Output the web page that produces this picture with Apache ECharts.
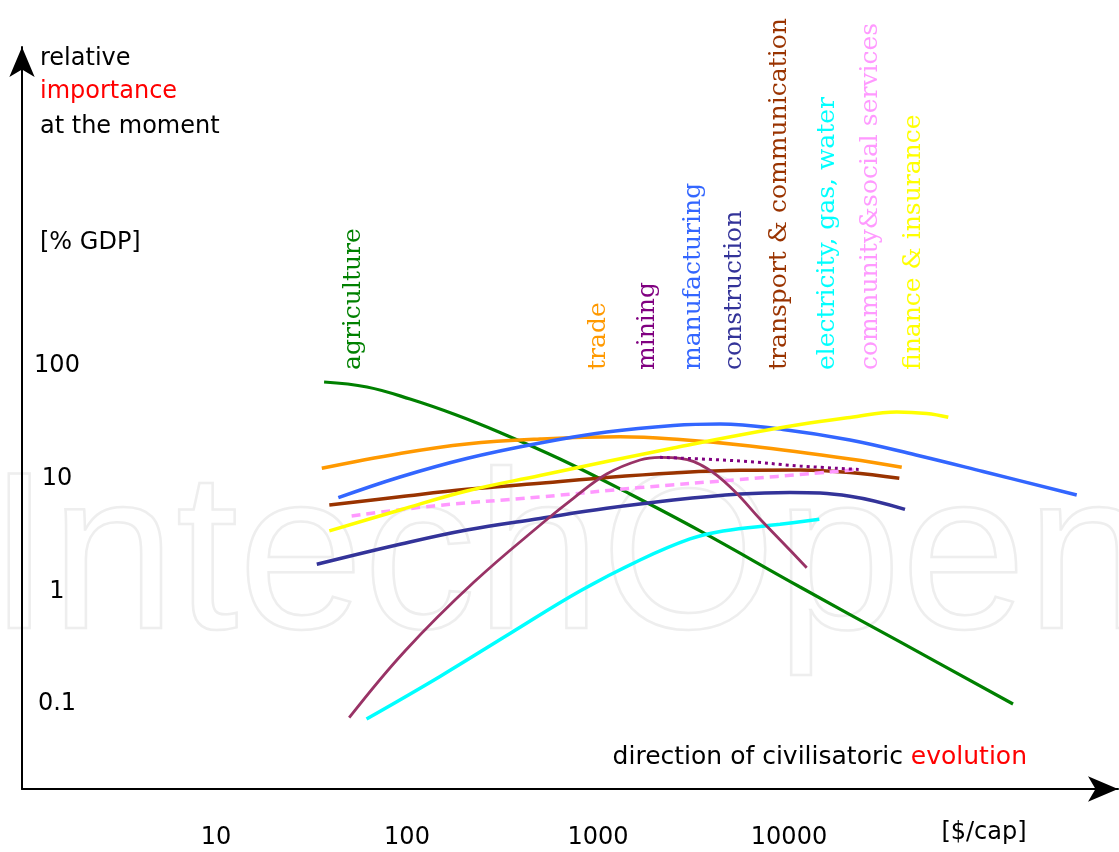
<!DOCTYPE html>
<html>
<head>
<meta charset="utf-8">
<title>Sector shares along GDP per capita</title>
<script src="https://cdn.jsdelivr.net/npm/echarts@6/dist/echarts.min.js"></script>
<style>
html, body { margin: 0; padding: 0; background: #fff; }
#main { width: 1119px; height: 852px; }
</style>
</head>
<body>
<div id="main"></div>
<script>
var chart = echarts.init(document.getElementById('main'), null, { renderer: 'canvas' });

// tick labels
var xTicks = [10, 100, 1000, 10000];
var yTicks = [0.1, 1, 10, 100];

// curves, points are [$ per capita, % of GDP]
var agriculture = [[36.8, 72.1], [61.7, 65.1], [103.7, 50.9], [178.4, 37.1], [306.9, 25.7], [632.4, 14.95],
    [1471, 7.31], [3420, 3.44], [11420, 1.094], [38140, 0.356], [148900, 0.1002]];
var trade = [[35.8, 12.37], [91.9, 16.74], [205.3, 20.32], [497, 22.5], [1304, 23.59], [2688, 22.27],
    [6249, 19.5], [20860, 14.95], [38930, 12.62]];
var mining = [[49.8, 0.0757], [97.6, 0.296], [224.3, 1.21], [527.8, 4.21], [739.8, 6.67], [1110, 11.01],
    [1660, 14.65], [2112, 15.48], [2688, 15.17], [3708, 12.37], [5110, 7.94], [7050, 4.39], [9727, 2.49], [12380, 1.62]];
var miningTrend = [[2112, 15.48], [5540, 14.35], [11420, 12.96], [23530, 12.07]];
var manufacturing = [[43.7, 6.78], [91.9, 10.35], [205.3, 15.11], [497, 20.74], [1110, 25.96], [2479, 29.66],
    [4352, 30.58], [9303, 27.33], [20860, 22.05], [46230, 16.23], [103700, 11.59], [320900, 7.17]];
var construction = [[33.7, 1.74], [91.9, 2.62], [205.3, 3.51], [497, 4.44], [1110, 5.46], [2479, 6.47],
    [5540, 7.31], [10120, 7.55], [20860, 7.0], [40480, 5.35]];
var transport = [[39.2, 5.84], [91.9, 6.92], [205.3, 8.05], [497, 9.10], [1110, 10.25], [2479, 11.24],
    [5540, 11.87], [11420, 11.95], [20860, 11.35], [37800, 10.08]];
var utilities = [[61.4, 0.0738], [148.9, 0.176], [346.1, 0.423], [805.1, 1.008], [1660, 1.90], [3032, 2.92],
    [4512, 3.44], [8973, 3.94], [14410, 4.36]];
var community = [[51.3, 4.67], [137.3, 5.73], [497, 6.88], [1660, 8.35], [5540, 9.84], [22160, 11.95]];
var finance = [[39.2, 3.44], [91.9, 5.28], [205.3, 7.78], [497, 10.68], [1110, 14.21], [2479, 18.73],
    [5540, 24.43], [11420, 30.26], [20860, 34.9], [36640, 39.1], [52590, 37.9], [68230, 35.1]];

// sector names written above the curves
var sectors = ['agriculture', 'trade', 'mining', 'manufacturing', 'construction',
    'transport & communication', 'electricity, gas, water', 'community&social services', 'finance & insurance'];
var sectorColors = ['#008000', '#ff9900', '#800080', '#3366ff', '#333399', '#993300', '#00ffff', '#ff99ff', '#ffff00'];
var sectorLabelX = [353, 598, 647, 693, 734, 779, 827, 870, 913];

function pickLabel(list) {
    return function (v) {
        for (var i = 0; i < list.length; i++) {
            if (Math.abs(Math.log10(v) - Math.log10(list[i])) < 1e-6) return String(list[i]);
        }
        return '';
    };
}

function line(name, data, color, width, type) {
    return {
        name: name,
        type: 'line',
        data: data,
        smooth: 0.4,
        showSymbol: false,
        silent: true,
        lineStyle: { color: color, width: width, type: type || 'solid' }
    };
}

var labelGraphics = sectors.map(function (s, i) {
    return {
        type: 'text',
        x: sectorLabelX[i],
        y: 370,
        rotation: Math.PI / 2,
        style: {
            text: s,
            fill: sectorColors[i],
            font: '25px "DejaVu Serif"',
            textAlign: 'left',
            textVerticalAlign: 'middle'
        }
    };
});

var textFont = '24px "DejaVu Sans"';
var axisArrow = {
    show: true,
    symbol: ['none', 'arrow'],
    symbolSize: [19, 30],
    lineStyle: { color: '#000', width: 2 }
};

chart.setOption({
    animation: false,
    backgroundColor: '#fff',
    grid: {
        left: 22,
        right: 1,
        top: 47,
        bottom: 63,
        containLabel: false,
        outerBoundsMode: 'none'
    },
    xAxis: {
        type: 'log',
        logBase: 10,
        min: 0.9645,
        max: 527800,
        axisLine: axisArrow,
        axisTick: { show: false },
        splitLine: { show: false },
        axisLabel: {
            interval: 0,
            margin: 37,
            color: '#000',
            fontFamily: 'DejaVu Sans',
            fontSize: 24,
            formatter: pickLabel(xTicks)
        }
    },
    yAxis: {
        type: 'log',
        logBase: 10,
        min: 0.01765,
        max: 67690,
        axisLine: axisArrow,
        axisTick: { show: false },
        splitLine: { show: false },
        axisLabel: {
            inside: true,
            interval: 0,
            margin: 35,
            align: 'center',
            color: '#000',
            fontFamily: 'DejaVu Sans',
            fontSize: 24,
            formatter: pickLabel(yTicks)
        }
    },
    graphic: [
        {
            type: 'text',
            x: -12,
            y: 566,
            z: -10,
            silent: true,
            style: {
                text: 'IntechOpen',
                font: '225px "Liberation Sans"',
                fill: 'rgba(255,255,255,0)',
                stroke: '#eeeeee',
                lineWidth: 2.5,
                textVerticalAlign: 'middle'
            }
        },
        {
            type: 'text', x: 40, y: 59,
            style: { text: 'relative', font: textFont, fill: '#000', textVerticalAlign: 'middle' }
        },
        {
            type: 'text', x: 40, y: 92,
            style: { text: 'importance', font: textFont, fill: '#ff0000', textVerticalAlign: 'middle' }
        },
        {
            type: 'text', x: 40, y: 127,
            style: { text: 'at the moment', font: textFont, fill: '#000', textVerticalAlign: 'middle' }
        },
        {
            type: 'text', x: 40, y: 243,
            style: { text: '[% GDP]', font: textFont, fill: '#000', textVerticalAlign: 'middle' }
        },
        {
            type: 'text', x: 1027, y: 757,
            style: {
                text: '{k|direction of civilisatoric }{r|evolution}',
                textAlign: 'right',
                textVerticalAlign: 'middle',
                rich: {
                    k: { font: '25px "DejaVu Sans"', fill: '#000' },
                    r: { font: '25px "DejaVu Sans"', fill: '#ff0000' }
                }
            }
        },
        {
            type: 'text', x: 984, y: 833,
            style: { text: '[$/cap]', font: textFont, fill: '#000', textAlign: 'center', textVerticalAlign: 'middle' }
        }
    ].concat(labelGraphics),
    series: [
        line('agriculture', agriculture, '#008000', 3.2),
        line('trade', trade, '#ff9900', 3.5),
        line('manufacturing', manufacturing, '#3366ff', 3.5),
        line('construction', construction, '#333399', 3.5),
        line('transport & communication', transport, '#993300', 3.5),
        line('community&social services', community, '#ff99ff', 3.5, [9, 6]),
        line('finance & insurance', finance, '#ffff00', 3.5),
        line('electricity, gas, water', utilities, '#00ffff', 3.5),
        line('mining', mining, '#993366', 2.8),
        line('mining trend', miningTrend, '#800080', 3, [3, 4])
    ]
});
</script>
</body>
</html>
